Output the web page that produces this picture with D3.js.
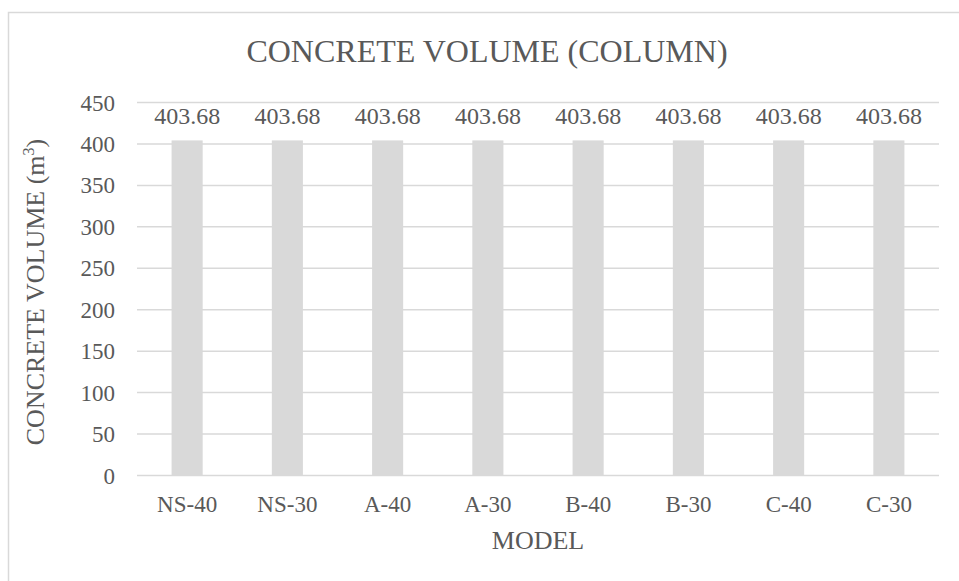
<!DOCTYPE html>
<html>
<head>
<meta charset="utf-8">
<script src="https://cdn.jsdelivr.net/npm/d3@7"></script>
<style>
  body { margin: 0; background: #fff; }
  svg { display: block; }
  text { font-family: "Liberation Serif", "Times New Roman", serif; fill: #595959; }
</style>
</head>
<body>
<svg></svg>
<script>
// chart data
var models = ["NS-40", "NS-30", "A-40", "A-30", "B-40", "B-30", "C-40", "C-30"];
var volumes = [403.68, 403.68, 403.68, 403.68, 403.68, 403.68, 403.68, 403.68];
var yTicks = [0, 50, 100, 150, 200, 250, 300, 350, 400, 450];

var W = 959, H = 581;
var margin = {top: 102, right: 20, bottom: 106, left: 137},
    width = 939 - margin.left,
    height = 475 - margin.top;

var svg = d3.select("svg")
    .attr("width", W)
    .attr("height", H);

// chart border
svg.append("rect")
    .attr("x", 8.5).attr("y", 12.5)
    .attr("width", 1000).attr("height", 700)
    .attr("fill", "none")
    .attr("stroke", "#d9d9d9")
    .attr("stroke-width", 1.5);

var g = svg.append("g")
    .attr("transform", "translate(" + margin.left + "," + margin.top + ")");

var x = d3.scaleBand()
    .domain(models)
    .range([0, width])
    .paddingInner(0.69)
    .paddingOuter(0.345);

var y = d3.scaleLinear()
    .domain([0, 450])
    .range([height, 0]);

// gridlines + y labels
var yAxis = g.append("g")
    .call(d3.axisLeft(y).tickValues(yTicks).tickSize(-width).tickPadding(22));
yAxis.select(".domain").remove();
yAxis.selectAll(".tick line").attr("stroke", "#d9d9d9").attr("stroke-width", 1.5);
yAxis.selectAll(".tick text")
    .attr("font-size", "23px")
    .attr("fill", "#595959")
    .attr("dy", "8px")
    .attr("font-family", "Liberation Serif, serif");

// bars
g.selectAll(".bar")
    .data(volumes)
    .enter().append("rect")
    .attr("class", "bar")
    .attr("x", function(d, i) { return x(models[i]); })
    .attr("width", x.bandwidth())
    .attr("y", function(d) { return y(d); })
    .attr("height", function(d) { return height - y(d); })
    .attr("fill", "#d9d9d9");

// data labels
g.selectAll(".lbl")
    .data(volumes)
    .enter().append("text")
    .attr("class", "lbl")
    .attr("x", function(d, i) { return x(models[i]) + x.bandwidth() / 2; })
    .attr("y", function(d) { return y(d) - 16; })
    .attr("text-anchor", "middle")
    .attr("font-size", "24px")
    .text(function(d) { return d.toFixed(2); });

// x axis labels
var xAxis = g.append("g")
    .attr("transform", "translate(0," + height + ")")
    .call(d3.axisBottom(x).tickSize(0).tickPadding(0));
xAxis.select(".domain").remove();
xAxis.selectAll(".tick text")
    .attr("font-size", "23px")
    .attr("fill", "#595959")
    .attr("font-family", "Liberation Serif, serif")
    .attr("dy", null)
    .attr("y", 37);

// title
svg.append("text")
    .attr("x", 487)
    .attr("y", 62)
    .attr("text-anchor", "middle")
    .attr("font-size", "32px")
    .text("CONCRETE VOLUME (COLUMN)");

// axis titles
svg.append("text")
    .attr("x", margin.left + width / 2)
    .attr("y", 549)
    .attr("text-anchor", "middle")
    .attr("font-size", "26px")
    .text("MODEL");

var yt = svg.append("text")
    .attr("transform", "translate(44,292) rotate(-90)")
    .attr("text-anchor", "middle")
    .attr("font-size", "26px");
yt.append("tspan").text("CONCRETE VOLUME (m");
yt.append("tspan").attr("font-size", "16px").attr("dy", "-10").text("3");
yt.append("tspan").attr("dy", "10").text(")");
</script>
</body>
</html>
